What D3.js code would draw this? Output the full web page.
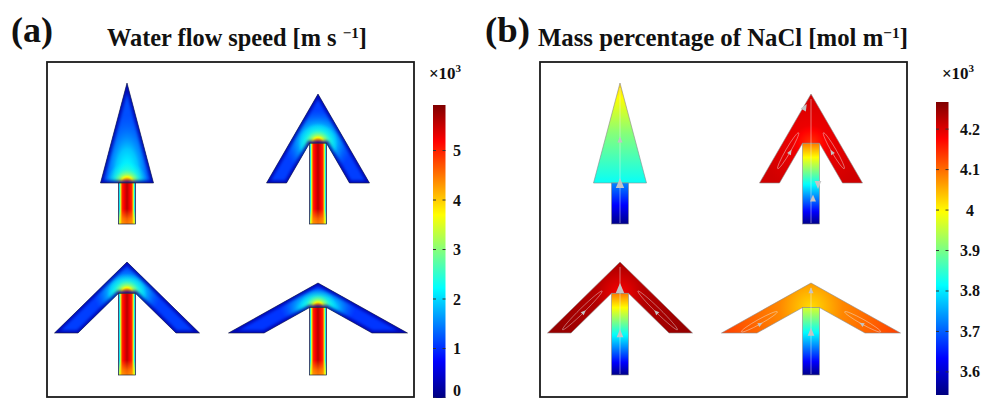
<!DOCTYPE html>
<html>
<head lang="en">
    <meta charset="UTF-8">
    <title></title>
    <script src="https://cdn.jsdelivr.net/npm/d3@7/dist/d3.min.js"></script>
    <style>
        *{margin:0;padding:0;}
        body{background:#fff;}
        svg{display:block;font-family:"Liberation Serif","Times New Roman",serif;font-weight:bold;}
    </style>
</head>
<body>
<div id="mychart"></div>
<script>
    // ---- geometry of the four channels (model units = frame px, origin at frame top-left)
    var arrowCx    = [80, 271, 80, 271];
    var arrowTip   = [21, 32, 200, 221];
    var arrowBase  = [121, 121, 271, 271];
    var outerHalf  = [26.5, 51.5, 72.5, 89.5];
    var innerHalf  = [0, 31.5, 49, 54];
    var stemBottom = [162, 162, 313, 313];
    var stemHalf   = 8.5;

    // ---- (a) water flow speed, x10^3 m/s
    var speedDomain = [0, 5.92];
    var speedTicks  = [0, 1, 2, 3, 4, 5];
    var stemProfileAt = [0, 0.07, 0.2, 0.5, 0.8, 0.93, 1];
    var stemProfile   = [1.0, 2.4, 4.9, 5.6, 4.9, 2.4, 1.0];
    var inletProfile  = [2.6, 3.6, 4.3, 4.5, 4.3, 3.6, 2.6];
    var headSpeed     = [1.2, 1.1, 1.1, 1.05];
    var wallSpeed     = 0.25;
    var blobAt    = [0, 0.2, 0.4, 0.65, 1];
    var blobSpeed = [5.0, 4.2, 3.1, 2.5, 2.2];
    var blobR     = [21, 20, 20, 19];
    var plumeAt    = [0, 0.5, 1];
    var plumeSpeed = [2.6, 2.0, 1.4];
    var plumeRx    = [25, 34, 34, 38];
    var plumeRy    = [68, 34, 28, 22];

    // ---- (b) NaCl, x10^3 mol/m
    var concDomain = [3.543, 4.267];
    var concTicks  = [3.6, 3.7, 3.8, 3.9, 4.0, 4.1, 4.2];
    var stemConcBottom = [3.55, 3.55, 3.55, 3.55];
    var stemConcTop    = [3.73, 4.09, 4.09, 3.97];
    var headConcNear   = [3.82, 4.14, 4.18, 4.02];
    var headConcMid    = [3.91, 4.19, 4.23, 4.08];
    var headConcFar    = [4.03, 4.21, 4.25, 4.13];
    // recirculation loops in the arms: position along arm, relative length
    var loopAt  = [0, 0.55, 0.62, 0.72];
    var loopLen = [0, 0.5, 0.65, 0.5];
    // arrow marks on centre streamline: which channel, fraction from stem bottom to tip, angle, side shift
    var markArrow = [0, 0, 1, 1, 1, 2, 2, 3, 3];
    var markAt    = [0.29, 0.6, 0.3, 0.2, 0.9, 0.77, 0.37, 0.92, 0.47];
    var markAngle = [-90, -90, 90, -90, -60, -90, -90, -90, -90];
    var markShift = [0, 0, 7, 2, -6, 0, 0, 0, 0];
    var markSize  = [10, 6, 8, 7, 7, 10, 8, 6, 8];

    var jetStops  = [0, 0.125, 0.375, 0.625, 0.875, 1];
    var jetColors = ["#00007f", "#0000ff", "#00ffff", "#ffff00", "#ff0000", "#7f0000"];

    var W = 984, H = 398;
    var panelLeft = [47, 540], panelTop = 62, panelW = 367, panelH = 335;

    function jetScale(dom){
        return d3.scaleLinear()
            .domain(jetStops.map(function(s){return dom[0] + s*(dom[1]-dom[0]);}))
            .range(jetColors)
            .clamp(true);
    }
    var speedColor = jetScale(speedDomain);
    var concColor  = jetScale(concDomain);

    var svg = d3.select("#mychart").append("svg").attr("width", W).attr("height", H);
    var defs = svg.append("defs");
    defs.append("filter").attr("id", "soft").attr("x", "-20%").attr("y", "-20%").attr("width", "140%").attr("height", "140%")
        .append("feGaussianBlur").attr("stdDeviation", 1.5);

    // gradient with dense stops so colours follow the jet map, not straight RGB blends
    function addGrad(type, id, attrs, offsets, values, color, opac){
        var g = defs.append(type).attr("id", id);
        for (var k in attrs) g.attr(k, attrs[k]);
        var vAt = d3.scaleLinear().domain(offsets).range(values);
        var oAt = opac ? d3.scaleLinear().domain(offsets).range(opac) : function(){return 1;};
        g.selectAll("stop").data(d3.range(0, 1.0001, 0.025)).enter().append("stop")
            .attr("offset", function(o){return o;})
            .attr("stop-color", function(o){return color(vAt(o));})
            .attr("stop-opacity", function(o){return oAt(o);});
        return "url(#" + id + ")";
    }

    function stemTop(i){
        if (innerHalf[i] === 0) return arrowBase[i];
        var v = arrowBase[i] - (arrowBase[i]-arrowTip[i])*innerHalf[i]/outerHalf[i];
        return v + (arrowBase[i]-arrowTip[i])*stemHalf/outerHalf[i];
    }
    function headPts(i){
        var c = arrowCx[i], t = arrowTip[i], b = arrowBase[i], o = outerHalf[i], n = innerHalf[i];
        if (n === 0) return [[c, t], [c+o, b], [c-o, b]];
        var st = stemTop(i);
        return [[c, t], [c+o, b], [c+n, b], [c+stemHalf, st], [c-stemHalf, st], [c-n, b], [c-o, b]];
    }

    // ================= panel (a)
    function drawSpeed(){
        var xs = d3.scaleLinear().domain([0, panelW]).range([panelLeft[0], panelLeft[0]+panelW]);
        var ys = d3.scaleLinear().domain([0, panelH]).range([panelTop, panelTop+panelH]);
        var poly = d3.line().x(function(d){return xs(d[0]);}).y(function(d){return ys(d[1]);}).curve(d3.curveLinearClosed);
        var g = svg.append("g");

        var stemFill = addGrad("linearGradient", "aStem", {x1:0, y1:0, x2:1, y2:0}, stemProfileAt, stemProfile, speedColor);
        var inletFill = addGrad("linearGradient", "aInlet", {x1:0, y1:0, x2:1, y2:0}, stemProfileAt, inletProfile, speedColor);
        var mg = defs.append("linearGradient").attr("id", "aInletFade").attr("x1", 0).attr("y1", 1).attr("x2", 0).attr("y2", 0);
        mg.append("stop").attr("offset", 0).attr("stop-color", "#fff").attr("stop-opacity", 1);
        mg.append("stop").attr("offset", 0.35).attr("stop-color", "#fff").attr("stop-opacity", 0.8);
        mg.append("stop").attr("offset", 1).attr("stop-color", "#fff").attr("stop-opacity", 0);
        defs.append("mask").attr("id", "aInletMask").attr("maskContentUnits", "objectBoundingBox")
            .append("rect").attr("width", 1).attr("height", 1).attr("fill", "url(#aInletFade)");
        var blobFill = addGrad("radialGradient", "aBlob", {}, blobAt, blobSpeed, speedColor, [1, 1, 0.95, 0.5, 0]);
        var plumeFill = addGrad("radialGradient", "aPlume", {}, plumeAt, plumeSpeed, speedColor, [1, 0.85, 0]);

        arrowCx.forEach(function(c, i){
            var pts = headPts(i);
            defs.append("clipPath").attr("id", "aClip"+i).append("path").attr("d", poly(pts));
            var a = g.append("g");
            a.append("path").attr("d", poly(pts)).attr("fill", speedColor(headSpeed[i]));
            var inner = a.append("g").attr("clip-path", "url(#aClip"+i+")");
            inner.append("ellipse")
                .attr("cx", xs(c)).attr("cy", ys(stemTop(i)))
                .attr("rx", xs(plumeRx[i]) - xs(0)).attr("ry", ys(plumeRy[i]) - ys(0))
                .attr("fill", plumeFill);
            inner.append("circle")
                .attr("cx", xs(c)).attr("cy", ys(stemTop(i)))
                .attr("r", xs(blobR[i]) - xs(0))
                .attr("fill", blobFill);
            inner.append("path").attr("d", poly(pts)).attr("fill", "none")
                .attr("stroke", speedColor(wallSpeed)).attr("stroke-width", 5)
                .attr("filter", "url(#soft)").attr("opacity", 0.85);
            a.append("path").attr("d", poly(pts)).attr("fill", "none")
                .attr("stroke", "#1c1c3a").attr("stroke-width", 0.6);

            var sx = xs(c - stemHalf), sy = ys(stemTop(i)), sw = xs(2*stemHalf) - xs(0), sh = ys(stemBottom[i]) - ys(stemTop(i));
            a.append("rect").attr("x", sx).attr("y", sy).attr("width", sw).attr("height", sh).attr("fill", stemFill);
            a.append("rect").attr("x", sx).attr("y", sy + sh - 15).attr("width", sw).attr("height", 15)
                .attr("fill", inletFill).attr("mask", "url(#aInletMask)");
            a.append("rect").attr("x", sx).attr("y", sy).attr("width", sw).attr("height", sh)
                .attr("fill", "none").attr("stroke", "#2a2a3a").attr("stroke-width", 0.7);
        });

        svg.append("rect").attr("x", xs(0)).attr("y", ys(0)).attr("width", panelW).attr("height", panelH)
            .attr("fill", "none").attr("stroke", "#1a1a1a").attr("stroke-width", 1.8);
    }

    // ================= panel (b)
    function drawConc(){
        var xs = d3.scaleLinear().domain([0, panelW]).range([panelLeft[1], panelLeft[1]+panelW]);
        var ys = d3.scaleLinear().domain([0, panelH]).range([panelTop, panelTop+panelH]);
        var poly = d3.line().x(function(d){return xs(d[0]);}).y(function(d){return ys(d[1]);}).curve(d3.curveLinearClosed);
        var g = svg.append("g");
        var streamColor = "rgba(235,235,235,0.6)", markColor = "#c4c4c4";

        function mark(px, py, ang, s){
            g.append("path")
                .attr("d", "M" + (s/2) + ",0L" + (-s/2) + "," + (-s*0.42) + "L" + (-s/2) + "," + (s*0.42) + "Z")
                .attr("transform", "translate(" + px + "," + py + ")rotate(" + ang + ")")
                .attr("fill", markColor);
        }

        arrowCx.forEach(function(c, i){
            var pts = headPts(i);
            var near = [headConcNear[i], headConcMid[i], headConcFar[i]];
            var headFill;
            if (innerHalf[i] === 0) {
                headFill = addGrad("linearGradient", "bHead"+i,
                    {gradientUnits:"userSpaceOnUse", x1:xs(c), y1:ys(arrowBase[i]), x2:xs(c), y2:ys(arrowTip[i])},
                    [0, 0.5, 1], near, concColor);
            } else {
                headFill = addGrad("radialGradient", "bHead"+i,
                    {gradientUnits:"userSpaceOnUse", cx:xs(c), cy:ys(stemTop(i)), r:xs(outerHalf[i]) - xs(0)},
                    [0, 0.35, 1], near, concColor);
            }
            g.append("path").attr("d", poly(pts)).attr("fill", headFill)
                .attr("stroke", "#8a8a8a").attr("stroke-width", 0.6);

            var stemFill = addGrad("linearGradient", "bStem"+i, {x1:0, y1:1, x2:0, y2:0},
                [0, 1], [stemConcBottom[i], stemConcTop[i]], concColor);
            g.append("rect").attr("x", xs(c - stemHalf)).attr("y", ys(stemTop(i)))
                .attr("width", xs(2*stemHalf) - xs(0)).attr("height", ys(stemBottom[i]) - ys(stemTop(i)))
                .attr("fill", stemFill).attr("stroke", "#8a8a8a").attr("stroke-width", 0.6);

            // centre streamline
            g.append("line").attr("x1", xs(c)).attr("y1", ys(stemBottom[i]) - 1)
                .attr("x2", xs(c)).attr("y2", ys(arrowTip[i]) + 5)
                .attr("stroke", streamColor).attr("stroke-width", 0.8);

            // recirculation loops in the two arms
            if (loopAt[i] > 0) {
                var t = arrowTip[i], b = arrowBase[i], o = outerHalf[i], n = innerHalf[i];
                var v = b - (b - t)*n/o;
                var ax = (o + n)/2, ay = b - (t + v)/2;
                var armLen = Math.sqrt(ax*ax + ay*ay);
                [-1, 1].forEach(function(s){
                    var px = xs(c + s*ax*loopAt[i]), py = ys((t + v)/2 + ay*loopAt[i]);
                    var dx = s*ax/armLen, dy = ay/armLen;
                    var ang = Math.atan2(dy, dx)*180/Math.PI;
                    var rx = (xs(armLen) - xs(0))*loopLen[i]/2, ry = 2.4;
                    g.append("ellipse").attr("cx", 0).attr("cy", 0).attr("rx", rx).attr("ry", ry)
                        .attr("transform", "translate(" + px + "," + py + ")rotate(" + ang + ")")
                        .attr("fill", "none").attr("stroke", streamColor).attr("stroke-width", 0.7);
                    var nx = s < 0 ? dy : -dy, ny = s < 0 ? -dx : dx;
                    mark(px + nx*ry, py + ny*ry, ang + 180, 5);
                });
            }
        });

        markArrow.forEach(function(k, j){
            var y = stemBottom[k] - (stemBottom[k] - arrowTip[k])*markAt[j];
            mark(xs(arrowCx[k] + markShift[j]), ys(y), markAngle[j], markSize[j]);
        });

        svg.append("rect").attr("x", xs(0)).attr("y", ys(0)).attr("width", panelW).attr("height", panelH)
            .attr("fill", "none").attr("stroke", "#1a1a1a").attr("stroke-width", 1.8);
    }

    // ================= colour bars
    function drawBar(id, color, domain, ticks, x, y0, y1, labelX, fmt){
        var ys = d3.scaleLinear().domain(domain).range([y1, y0]);
        addGrad("linearGradient", id, {x1:0, y1:1, x2:0, y2:0}, [0, 1], domain, color);
        svg.append("rect").attr("x", x).attr("y", y0).attr("width", 12.5).attr("height", y1 - y0)
            .attr("fill", "url(#" + id + ")");
        var tg = svg.append("g");
        ticks.forEach(function(t){
            tg.append("line").attr("x1", x).attr("x2", x + 3).attr("y1", ys(t)).attr("y2", ys(t))
                .attr("stroke", "#333").attr("stroke-width", 1);
            tg.append("line").attr("x1", x + 9.5).attr("x2", x + 12.5).attr("y1", ys(t)).attr("y2", ys(t))
                .attr("stroke", "#333").attr("stroke-width", 1);
            tg.append("text").attr("x", labelX).attr("y", Math.min(ys(t) + 5.5, 396)).attr("text-anchor", "middle")
                .attr("font-size", 16).attr("fill", "#111").text(fmt(t));
        });
        var e = svg.append("text").attr("x", labelX - 12).attr("y", 79).attr("text-anchor", "middle")
            .attr("font-size", 17).attr("fill", "#111");
        e.append("tspan").text("×10");
        e.append("tspan").attr("dy", -7).attr("font-size", 11).text("3");
    }

    drawSpeed();
    drawConc();
    drawBar("barA", speedColor, speedDomain, speedTicks, 433, 105, 398, 457, d3.format("d"));
    drawBar("barB", concColor, concDomain, concTicks, 936, 102, 395, 970, function(t){return t === 4 ? "4" : d3.format(".1f")(t);});

    // ================= titles (font size fitted to the measured width of the reference)
    function fit(sel, target){
        var fs = +sel.attr("font-size");
        var w = sel.node().getComputedTextLength();
        if (w > 0) sel.attr("font-size", fs*target/w);
    }
    var la = svg.append("text").attr("x", 11).attr("y", 42).attr("font-size", 30).attr("fill", "#111").text("(a)");
    var lb = svg.append("text").attr("x", 485).attr("y", 42).attr("font-size", 30).attr("fill", "#111").text("(b)");
    fit(la, 42); fit(lb, 45);
    var ta = svg.append("text").attr("x", 107).attr("y", 46).attr("font-size", 20).attr("fill", "#111");
    ta.append("tspan").text("Water flow speed [m s ");
    ta.append("tspan").attr("dy", -8).attr("font-size", "0.62em").text("\u22121");
    ta.append("tspan").attr("dy", 8).text("]");
    var tb = svg.append("text").attr("x", 538).attr("y", 46).attr("font-size", 20).attr("fill", "#111");
    tb.append("tspan").text("Mass percentage of NaCl [mol m");
    tb.append("tspan").attr("dy", -8).attr("font-size", "0.62em").text("\u22121");
    tb.append("tspan").attr("dy", 8).text("]");
    fit(ta, 260); fit(tb, 370);
</script>
</body>
</html>
